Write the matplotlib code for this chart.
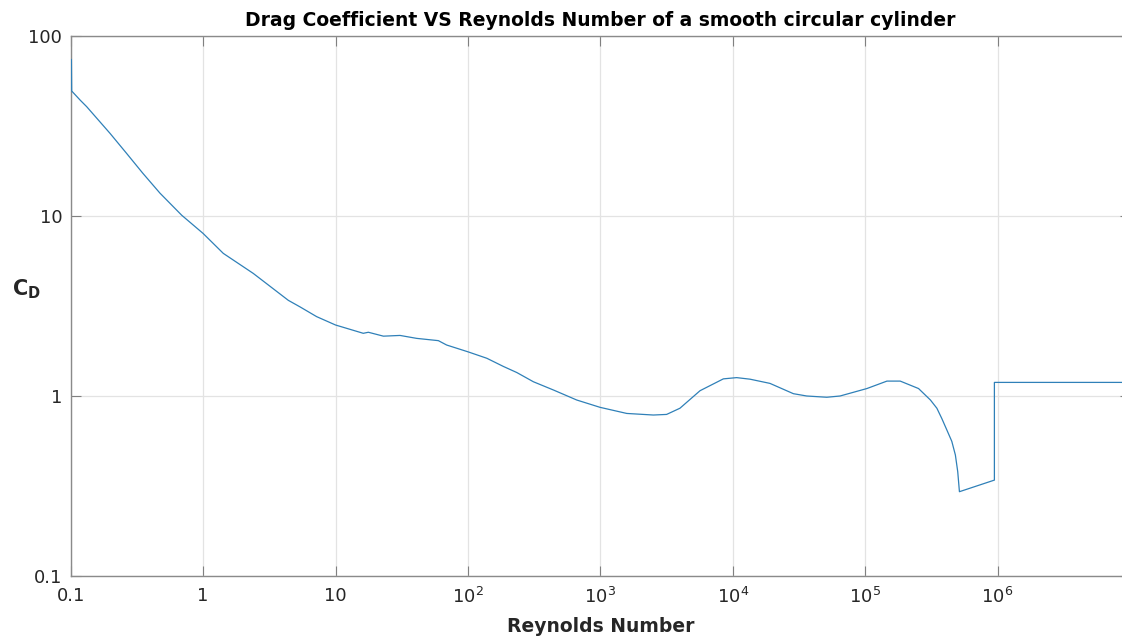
import matplotlib
matplotlib.use("Agg")
import matplotlib.pyplot as plt
from matplotlib.ticker import FixedLocator, FixedFormatter, NullLocator

plt.rcParams['font.family'] = ['DejaVu Sans']
plt.rcParams['mathtext.fontset'] = 'dejavusans'

# Reynolds number vs drag coefficient
re_vals = [0.1012, 0.1017, 0.118, 0.132, 0.198, 0.264, 0.35, 0.472, 0.689, 1.0, 1.42, 2.39,
           4.4, 5.38, 7.2, 10, 16.2, 17.7, 23, 30.7, 41, 59.8, 69, 100, 139, 185,
           234, 312, 442, 663, 995, 1583, 2515, 3165, 3990, 5660, 8490, 10700,
           13500, 19100, 28700, 36200, 51300, 64600, 103000, 146000, 184000,
           253000, 311000, 348000, 379000, 414000, 451000, 480000, 500000, 515000,
           946000, 946000, 1.0e7]
cd_vals = [74, 49.5, 44, 40.5, 28.8, 22.3, 17.3, 13.4, 10.1, 8.0, 6.2, 4.8,
           3.4, 3.13, 2.76, 2.48, 2.23, 2.26, 2.15, 2.17, 2.09, 2.03, 1.92, 1.76, 1.62, 1.46,
           1.35, 1.2, 1.08, 0.95, 0.865, 0.80, 0.784, 0.79, 0.855, 1.07, 1.245, 1.265,
           1.24, 1.175, 1.03, 1.0, 0.984, 1.0, 1.10, 1.21, 1.21,
           1.10, 0.95, 0.855, 0.75, 0.647, 0.56, 0.47, 0.38, 0.294,
           0.341, 1.19, 1.19]

x_ticks = [0.1, 1, 10, 1e2, 1e3, 1e4, 1e5, 1e6]
x_labels = ['0.1', '1', '10', '$10^2$', '$10^3$', '$10^4$', '$10^5$', '$10^6$']
y_ticks = [0.1, 1, 10, 100]
y_labels = ['0.1', '1', '10', '100']

fig = plt.figure(figsize=(11.22, 6.36), dpi=100)
# axes runs a few pixels past the right edge, like the cropped original
ax = fig.add_axes([70.7 / 1122, 60 / 636, (1130 - 70.7) / 1122, 540 / 636])

ax.loglog(re_vals, cd_vals, color='#2f80b8', linewidth=0.9, zorder=3)

ax.set_xlim(0.1, 1e7)
ax.set_ylim(0.1, 100)
ax.xaxis.set_major_locator(FixedLocator(x_ticks))
ax.xaxis.set_major_formatter(FixedFormatter(x_labels))
ax.yaxis.set_major_locator(FixedLocator(y_ticks))
ax.yaxis.set_major_formatter(FixedFormatter(y_labels))
ax.xaxis.set_minor_locator(NullLocator())
ax.yaxis.set_minor_locator(NullLocator())

ax.grid(True, color='#e3e3e3', linewidth=0.9)
ax.set_axisbelow(True)
ax.tick_params(direction='in', length=7, width=0.8, colors='#808080',
               labelcolor='#262626', labelsize=13, top=True, right=True)
ax.tick_params(axis='x', pad=8)
ax.tick_params(axis='y', pad=6)
for s in ax.spines.values():
    s.set_color('#8a8a8a')
    s.set_linewidth(1.0)

ax.set_title('Drag Coefficient VS Reynolds Number of a smooth circular cylinder',
             fontsize=13.5, fontweight='bold', pad=7)
ax.set_xlabel('Reynolds Number', fontsize=13.5, fontweight='bold', color='#262626', labelpad=7)
ax.set_ylabel(r'$\mathbf{C_D}$', fontsize=15, rotation=0, color='#262626')
ax.yaxis.set_label_coords(-0.042, 0.51)

fig.savefig('out.png', dpi=100)
